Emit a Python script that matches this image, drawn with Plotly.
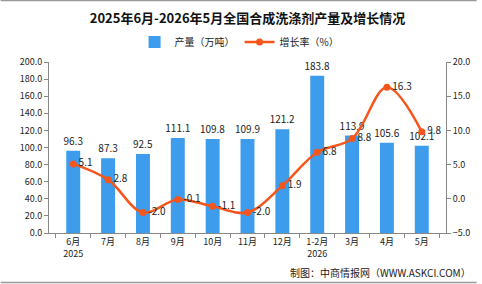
import plotly.graph_objects as go

categories = ["6月<br>2025", "7月", "8月", "9月", "10月", "11月", "12月", "1-2月<br>2026", "3月", "4月", "5月"]
output = [96.3, 87.3, 92.5, 111.1, 109.8, 109.9, 121.2, 183.8, 113.9, 105.6, 102.1]
growth = [5.1, 2.8, -2.0, -0.1, -1.1, -2.0, 1.9, 6.8, 8.8, 16.3, 9.8]

FONT = "Noto Sans CJK SC"
L, R, T, B = 49, 31, 62, 51
W, H = 482, 284
pw, ph = W - L - R, H - T - B

def px(x):
    return (x - L) / pw

def py(y):
    return (H - B - y) / ph

fig = go.Figure()
fig.add_trace(go.Bar(
    x=categories, y=output, name="产量（万吨）",
    marker=dict(color="#3d9cec", line=dict(width=0)),
    width=0.4,
    text=[f"{v:.1f}" for v in output], textposition="outside",
    constraintext="none",
    textfont=dict(size=10, color="#222", family=FONT),
    cliponaxis=False,
))
fig.add_trace(go.Scatter(
    x=categories, y=growth, name="增长率（%）", yaxis="y2",
    mode="lines+markers+text",
    line=dict(color="#f5561c", width=2.5, shape="spline", smoothing=1.0),
    marker=dict(color="#f5561c", size=7),
    text=[f"{v:.1f}" for v in growth], textposition="middle right",
    textfont=dict(size=10, color="#222", family=FONT),
    cliponaxis=False,
))

fig.update_layout(
    width=W, height=H,
    margin=dict(l=L, r=R, t=T, b=B),
    paper_bgcolor="white", plot_bgcolor="white",
    font=dict(family=FONT, size=9, color="#222"),
    title=dict(text="<b>2025年6月-2026年5月全国合成洗涤剂产量及增长情况</b>",
               x=0.5, xref="paper", xanchor="center",
               y=1 - 18 / H, yanchor="middle",
               font=dict(size=13, color="#111", family=FONT)),
    showlegend=True,
    legend=dict(orientation="h", x=0.48, xanchor="center", xref="paper",
                y=py(42), yanchor="middle",
                font=dict(size=10, color="#222", family=FONT),
                bgcolor="rgba(0,0,0,0)", itemwidth=30, tracegroupgap=0),
    bargap=0.6,
    xaxis=dict(showline=True, linecolor="#888", linewidth=1,
               ticks="outside", tickson="boundaries", ticklen=4, tickcolor="#888",
               tickfont=dict(size=9, family=FONT), showgrid=False),
    yaxis=dict(range=[0, 200], dtick=20, tickformat=".1f", showline=True,
               linecolor="#888", linewidth=1, ticks="outside", ticklen=4,
               tickcolor="#888", showgrid=False, zeroline=False,
               tickfont=dict(size=9, family=FONT)),
    yaxis2=dict(range=[-5, 20], dtick=5, tickformat=".1f", overlaying="y",
                side="right", showline=True, linecolor="#888", linewidth=1,
                ticks="outside", ticklen=4, tickcolor="#888", showgrid=False,
                zeroline=False, tickfont=dict(size=9, family=FONT)),
    shapes=[
        dict(type="line", xref="paper", yref="paper", x0=px(0), x1=px(W),
             y0=py(0.5), y1=py(0.5), line=dict(color="#999", width=1.5)),
        dict(type="line", xref="paper", yref="paper", x0=px(0), x1=px(W),
             y0=py(282.5), y1=py(282.5), line=dict(color="#999", width=1.5)),
    ],
    annotations=[
        dict(text="制图：中商情报网（WWW.ASKCI.COM）", xref="paper", yref="paper",
             x=px(478), y=py(272), xanchor="right", yanchor="middle",
             showarrow=False, font=dict(size=10, color="#222", family=FONT)),
    ],
)

fig.write_html("out.html")
